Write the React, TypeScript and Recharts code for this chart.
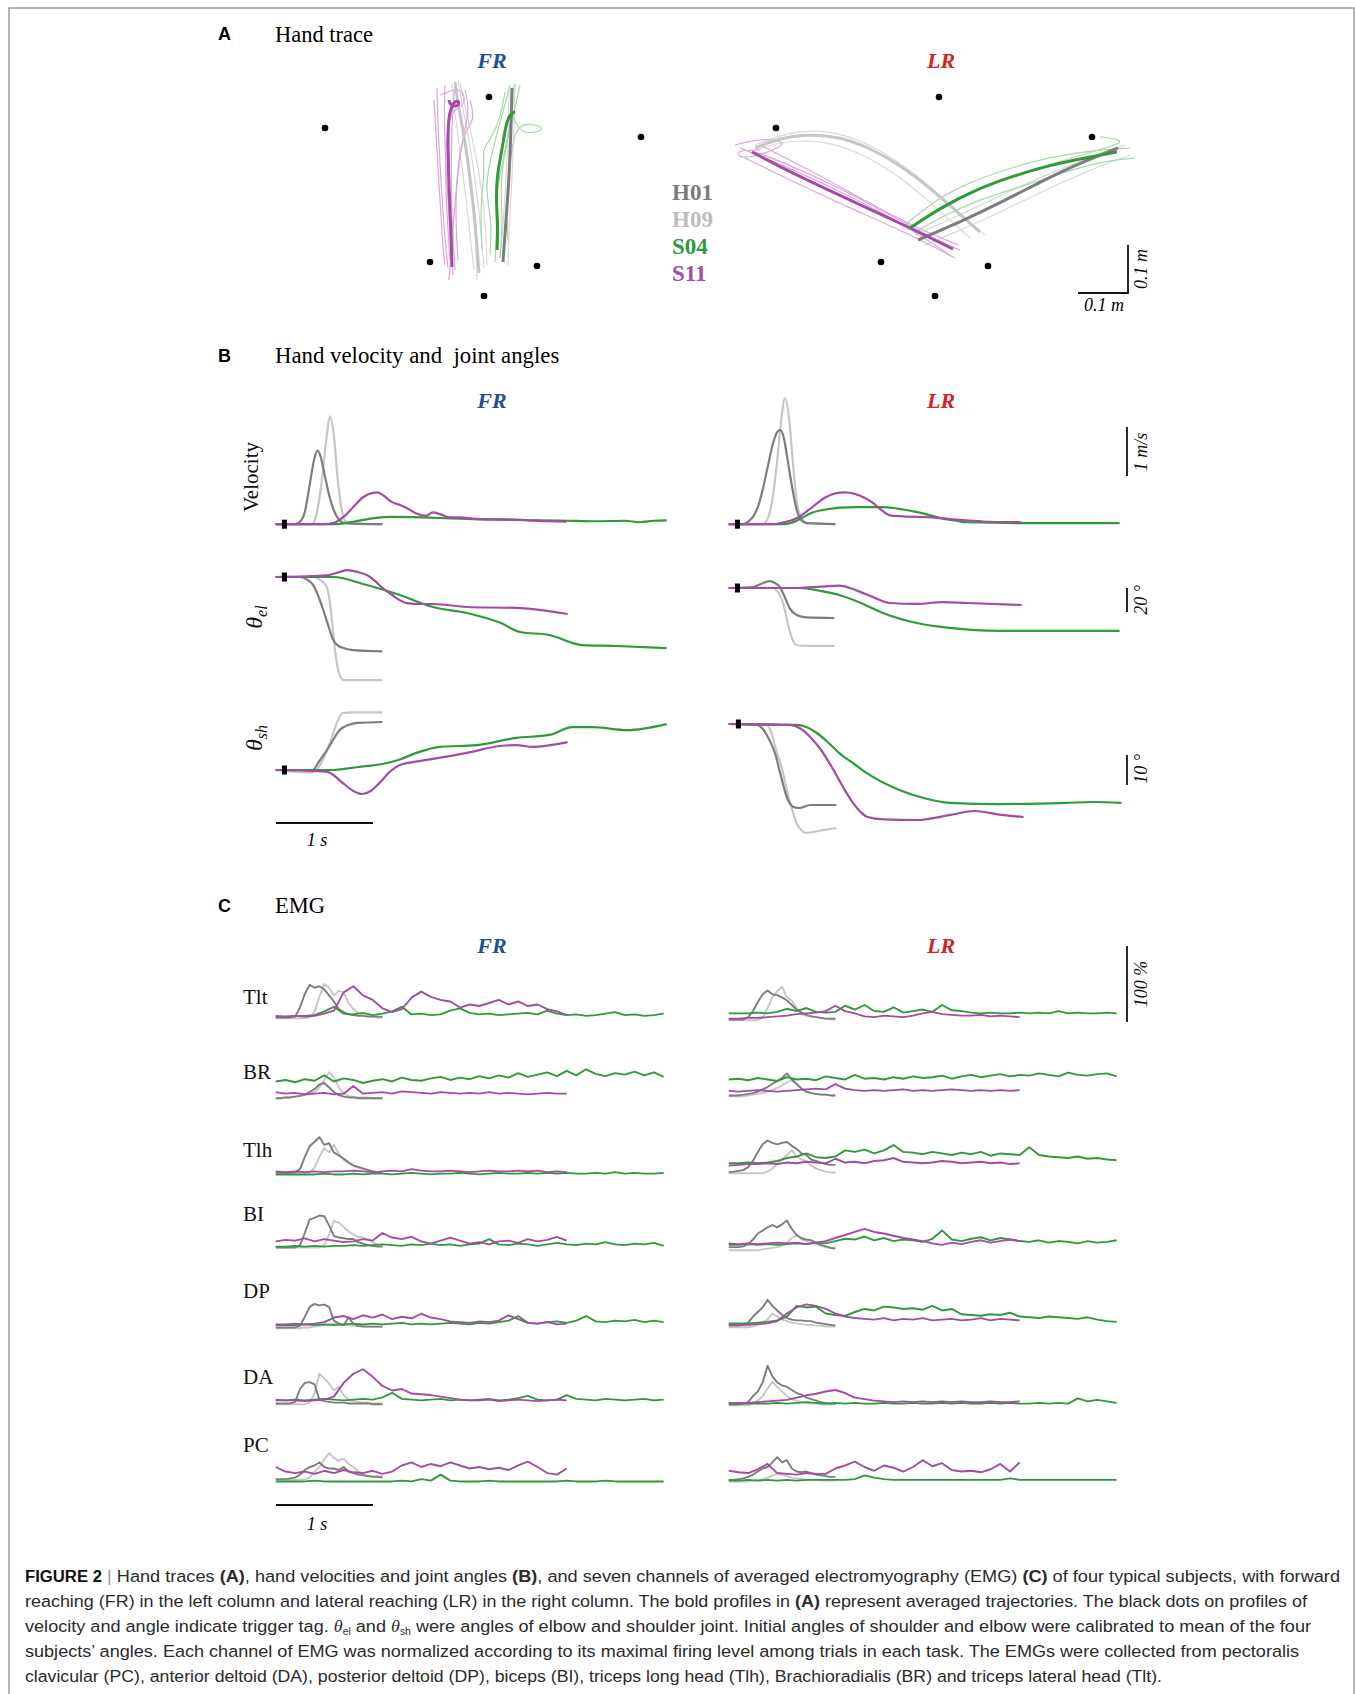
import { ComposedChart, Line, Scatter, XAxis, YAxis, ReferenceDot } from 'recharts';

type Pt = [number, number];
type Trace = { pts: Pt[]; color: string; width: number };

const DARK = '#7d7d7d';
const LIGHT = '#c6c6c6';
const GREEN = '#2f9a3a';
const PURPLE = '#a54aa5';
const GREEN_TRIAL = '#a6d9a6';
const PURPLE_TRIAL = '#dca6dc';
const GRAY_TRIAL = '#d9d9d9';
const BLUE = '#1d4f9c';
const RED = '#d42222';

const SERIF = '"Liberation Serif", "DejaVu Serif", serif';
const SANS = '"Liberation Sans", Arial, sans-serif';

// ---------- A: hand traces (workspace, cm) ----------
const frTargets: Pt[] = [[13, 36.4], [45.8, 42.6], [76.2, 34.6], [34, 9.6], [55.4, 8.8], [44.8, 2.8]];
const lrTargets: Pt[] = [[103.2, 36.4], [135.8, 42.6], [166.4, 34.6], [124.2, 9.6], [145.6, 8.8], [135, 2.8]];

const frS11Mean: Pt[] = [[38.4, 8.6], [38.2, 16], [37.8, 24], [37.6, 32], [37.6, 37], [38, 40], [39, 42], [40, 41.6], [39.4, 40.6], [38, 41], [37.8, 42]];
const frS11Trials: Pt[][] = [
  [[35.4, 44.4], [35.6, 36], [36.2, 26], [36.8, 16], [37.6, 8.4]],
  [[37, 45], [36.8, 38], [37.2, 28], [37.8, 18], [38.6, 7]],
  [[39, 45.6], [38.4, 38], [38.2, 28], [38.4, 17], [39, 8]],
  [[41, 44], [42, 40], [40.4, 34], [39.2, 24], [38.4, 14], [37.8, 6]],
  [[36, 43], [37.6, 43.6], [39.6, 44.4], [41.2, 42.8], [40.4, 40.4], [38, 40], [37, 32], [37.2, 22], [38, 10]],
  [[34.8, 42], [35.4, 32], [36, 22], [36.6, 12], [37, 9]],
  [[42, 42], [43, 38], [41, 36], [39.6, 30], [39, 20], [39.6, 10]],
];
const frH09Mean: Pt[] = [[39, 45.6], [39.8, 40], [41, 34], [42, 26.6], [43, 18], [43.8, 7.4]];
const frH09Trials: Pt[][] = [
  [[38.4, 45.2], [39, 39], [40, 32], [41, 24], [42, 15], [42.8, 8]],
  [[39.6, 46], [40.6, 40], [42, 33], [43.2, 25], [44.2, 16], [44.8, 8.4]],
  [[39.2, 44.8], [40.2, 38], [41.4, 30], [42.4, 22], [43.2, 14], [43.4, 6]],
  [[40, 45.4], [41.4, 39], [43, 32], [44.4, 24], [45.2, 16], [45.4, 9]],
];
const frH01Mean: Pt[] = [[50.4, 44.4], [50.2, 36], [49.8, 26], [49.2, 18], [48.6, 9.6]];
const frH01Trials: Pt[][] = [
  [[51, 45], [50.8, 36], [50.4, 26], [49.8, 17], [49.6, 9]],
  [[49.8, 44], [49.6, 35], [49.2, 25], [48.6, 17], [48, 10.4]],
];
const frS04Mean: Pt[] = [[47.4, 12], [47.6, 17], [47.2, 22], [47.4, 27], [48.4, 32], [49, 36], [49.6, 38.4], [50.4, 39.4], [51, 39.6]];
const frS04Trials: Pt[][] = [
  [[46, 11], [46.4, 18], [45, 24], [46, 30], [47.6, 36], [49.2, 42], [50, 45]],
  [[48, 10.4], [48.6, 18], [48, 25], [49, 32], [50.4, 38], [51.6, 43], [52, 45]],
  [[49.6, 14], [49.2, 22], [50, 30], [51, 36], [53, 37.6], [57.6, 36.4], [54, 35], [51, 36.4], [50, 42], [51, 45.2]],
  [[44.4, 12], [44, 20], [45, 28], [44.4, 32], [46, 34], [48, 38], [49, 43.6]],
  [[47, 9.6], [47.4, 16], [47, 22], [48.4, 29], [49.6, 35], [50.8, 41], [50.4, 44.4]],
];

const lrS11Mean: Pt[] = [[98.4, 31.6], [108, 26.6], [118, 22], [128, 17.4], [138.6, 12.2]];
const lrS11Trials: Pt[][] = [
  [[96, 32.4], [106, 28.4], [118, 22.8], [128, 17.6], [138, 11]],
  [[100, 33], [110, 28], [120, 22.4], [130, 17], [139.6, 13]],
  [[97, 30.4], [108, 25], [118, 20.4], [129, 15.6], [139, 10.4]],
  [[95, 33], [100, 34.4], [106, 33.6], [102, 31.6], [96, 30], [95, 32], [100, 32]],
  [[98, 32], [106, 29], [116, 24.4], [126, 19], [136, 13.6], [140, 12]],
];
const lrH09Mean: Pt[] = [[99, 32.4], [104, 34.4], [110, 35.2], [116, 34.6], [122, 32.4], [128, 29], [134, 24.4], [139, 20], [144, 15.6]];
const lrH09Trials: Pt[][] = [
  [[99, 33], [106, 35.6], [112, 36], [118, 34.8], [124, 32], [130, 28], [136, 23], [141, 18.4], [145, 15]],
  [[99, 32], [104, 33.6], [110, 34], [116, 33], [122, 30.4], [128, 26.6], [133, 22.4], [138, 18], [142, 14.4]],
];
const lrH01Mean: Pt[] = [[131.6, 14], [140, 17.6], [148, 21.4], [156, 25.6], [164, 29.4], [171.6, 32.4]];
const lrH01Trials: Pt[][] = [
  [[131, 15], [140, 19], [148, 22.8], [157, 27], [166, 30.4], [173, 33]],
  [[133, 13], [141, 16.4], [149, 20], [157, 24], [166, 28], [174, 31]],
];
const lrS04Mean: Pt[] = [[130, 16.4], [136, 20.4], [143, 24], [150, 26.6], [158, 29], [166, 30.6], [171.4, 31.6]];
const lrS04Trials: Pt[][] = [
  [[129, 17], [135, 22], [142, 25.6], [150, 28.4], [158, 30.6], [167, 32], [174, 32.4]],
  [[131, 15.6], [138, 19.6], [146, 22.8], [154, 25.2], [162, 28], [170, 30], [175, 30.4]],
  [[129.6, 16], [137, 21.4], [145, 24.8], [153, 27.6], [161, 30], [169, 32.4], [173, 33.6], [170.4, 34.4], [168, 34.6]],
];

// ---------- B: velocity (m/s) and joint angles (deg) vs time (s) ----------
const frVelH01: Pt[] = [[0, 0], [0.2, 0], [0.25, 0.05], [0.3, 0.25], [0.35, 0.8], [0.4, 1.35], [0.43, 1.5], [0.46, 1.4], [0.5, 1.05], [0.55, 0.6], [0.6, 0.28], [0.65, 0.1], [0.7, 0.03], [0.8, 0.01], [1.1, 0]];
const frVelH09: Pt[] = [[0, 0], [0.37, 0], [0.42, 0.2], [0.47, 0.8], [0.52, 1.7], [0.56, 2.2], [0.6, 1.8], [0.64, 0.9], [0.68, 0.3], [0.72, 0.06], [0.8, 0.01], [1.1, 0]];
const frVelS11: Pt[] = [[0, 0], [0.5, 0], [0.6, 0.03], [0.7, 0.15], [0.8, 0.35], [0.9, 0.55], [1.0, 0.64], [1.05, 0.65], [1.1, 0.6], [1.2, 0.45], [1.27, 0.4], [1.35, 0.33], [1.45, 0.22], [1.55, 0.17], [1.62, 0.24], [1.7, 0.2], [1.8, 0.14], [1.9, 0.14], [2.0, 0.12], [2.2, 0.1], [2.4, 0.1], [2.6, 0.08], [2.8, 0.06], [3.0, 0.05]];
const frVelS04: Pt[] = [[0, 0], [0.6, 0], [0.8, 0.05], [1.0, 0.12], [1.2, 0.15], [1.5, 0.14], [1.8, 0.12], [2.1, 0.1], [2.4, 0.09], [2.7, 0.08], [3.0, 0.07], [3.3, 0.06], [3.6, 0.07], [3.75, 0.04], [3.9, 0.07], [4.03, 0.08]];

const lrVelH01: Pt[] = [[0, 0], [0.15, 0], [0.2, 0.05], [0.25, 0.15], [0.3, 0.35], [0.35, 0.7], [0.4, 1.15], [0.45, 1.6], [0.5, 1.88], [0.53, 1.92], [0.57, 1.75], [0.6, 1.4], [0.65, 0.8], [0.7, 0.3], [0.75, 0.08], [0.8, 0.02], [1.1, 0]];
const lrVelH09: Pt[] = [[0, 0], [0.35, 0], [0.4, 0.1], [0.45, 0.5], [0.5, 1.3], [0.54, 2.1], [0.58, 2.57], [0.62, 2.2], [0.66, 1.3], [0.7, 0.5], [0.74, 0.15], [0.8, 0.03], [1.1, 0]];
const lrVelS11: Pt[] = [[0, 0], [0.45, 0], [0.55, 0.03], [0.7, 0.12], [0.85, 0.33], [1.0, 0.55], [1.1, 0.63], [1.2, 0.65], [1.3, 0.62], [1.4, 0.54], [1.49, 0.43], [1.58, 0.28], [1.66, 0.18], [1.8, 0.16], [2.1, 0.14], [2.3, 0.1], [2.45, 0.08], [2.7, 0.05], [3.02, 0.04]];
const lrVelS04: Pt[] = [[0, 0], [0.55, 0], [0.65, 0.03], [0.75, 0.12], [0.84, 0.22], [1.0, 0.3], [1.15, 0.34], [1.32, 0.35], [1.59, 0.35], [1.8, 0.3], [1.93, 0.25], [2.1, 0.17], [2.2, 0.12], [2.35, 0.07], [2.45, 0.04], [3.14, 0.02], [4.03, 0.02]];

const frElH01: Pt[] = [[0, 0], [0.25, 0], [0.32, -2], [0.38, -6], [0.43, -14], [0.48, -25], [0.54, -40], [0.59, -52], [0.64, -57], [0.69, -59], [0.8, -61], [1.1, -62]];
const frElH09: Pt[] = [[0, 0], [0.38, 0], [0.47, -3], [0.53, -9], [0.56, -22], [0.59, -44], [0.62, -66], [0.66, -82], [0.7, -86], [0.8, -86], [1.1, -86]];
const frElS11: Pt[] = [[0, 0], [0.53, 1.4], [0.65, 4], [0.74, 5.8], [0.85, 4], [0.94, 1.7], [1.02, -3], [1.09, -8.3], [1.2, -15], [1.35, -21.7], [1.5, -22.5], [1.62, -22.5], [1.97, -25], [2.48, -25.8], [2.65, -26.7], [3.01, -30.8]];
const frElS04: Pt[] = [[0, 0], [0.59, 0], [0.94, -6.7], [1.28, -15], [1.62, -25], [1.97, -30], [2.31, -38], [2.52, -45.8], [2.82, -48.3], [3.16, -56.7], [3.52, -57.5], [4.03, -59.2]];

const lrElH01: Pt[] = [[0, 0], [0.25, 0.8], [0.35, 4], [0.42, 5.8], [0.48, 4], [0.53, 0.8], [0.58, -8], [0.63, -17], [0.7, -22.5], [0.8, -24.5], [1.09, -25]];
const lrElH09: Pt[] = [[0, 0], [0.45, 0], [0.52, -5], [0.56, -12.5], [0.6, -26], [0.64, -39], [0.7, -47.5], [0.8, -48.3], [1.09, -48.3]];
const lrElS11: Pt[] = [[0, 0], [0.73, 0], [0.95, 1.2], [1.14, 1.9], [1.25, 0], [1.35, -3], [1.5, -8], [1.66, -12.5], [1.94, -13.3], [2.2, -11.7], [2.45, -12.5], [3.02, -14.2]];
const lrElS04: Pt[] = [[0, 0], [0.73, 0], [0.95, -2.5], [1.14, -5.8], [1.35, -12], [1.59, -20.8], [1.94, -29.2], [2.28, -33.3], [2.79, -35.8], [4.03, -35.8]];

const frShH01: Pt[] = [[0, 0], [0.38, 0], [0.45, 3], [0.53, 6.7], [0.6, 10.5], [0.66, 13.3], [0.75, 15], [0.84, 15.7], [1.1, 16]];
const frShH09: Pt[] = [[0, 0], [0.36, -0.9], [0.42, 0], [0.48, 3], [0.53, 6.7], [0.58, 11], [0.63, 15.7], [0.69, 19], [0.8, 19.2], [1.1, 19.2]];
const frShS11: Pt[] = [[0, 0], [0.53, -0.6], [0.69, -4.3], [0.8, -7], [0.89, -8], [0.98, -7], [1.07, -4.3], [1.18, -0.5], [1.28, 1.7], [1.45, 2.8], [1.62, 3.7], [1.97, 5.7], [2.31, 8], [2.48, 8.3], [2.65, 7.7], [3.01, 9.3]];
const frShS04: Pt[] = [[0, 0], [0.59, 0], [0.85, 1], [1.1, 2], [1.28, 3.5], [1.45, 5.7], [1.69, 7.7], [2.07, 8.3], [2.48, 10.7], [2.82, 11.7], [3.06, 14.3], [3.27, 14.3], [3.62, 13.3], [4.03, 15.3]];

const lrShH01: Pt[] = [[0, 0], [0.29, -0.3], [0.36, -2], [0.42, -5.3], [0.48, -10], [0.53, -16.3], [0.61, -25.3], [0.68, -27.8], [0.73, -28], [0.84, -27], [1.11, -27]];
const lrShH09: Pt[] = [[0, 0], [0.39, -0.3], [0.44, -3], [0.49, -8.7], [0.55, -15], [0.6, -22], [0.65, -28], [0.7, -33], [0.8, -36.3], [0.95, -35.5], [1.11, -34.7]];
const lrShS11: Pt[] = [[0, 0], [0.63, -0.3], [0.74, -1.5], [0.84, -4.3], [0.96, -9], [1.08, -15.3], [1.17, -20.5], [1.26, -25.3], [1.35, -29], [1.43, -31], [1.6, -31.8], [1.95, -32], [2.29, -30.3], [2.53, -29], [2.81, -30.3], [3.04, -31]];
const lrShS04: Pt[] = [[0, 0], [0.7, -0.3], [0.8, -1], [0.91, -3], [1.02, -6], [1.14, -9.7], [1.28, -13], [1.42, -16.3], [1.76, -22], [2.0, -24.6], [2.28, -26.3], [2.79, -26.7], [3.48, -26.3], [3.75, -26], [4.05, -26.3]];

// ---------- C: EMG (% of max), healthy sampled every 0.05 s, stroke every 0.1 s ----------
const GRAY_DT = 0.05;
const LONG_DT = 0.1;

const frTlt = {
  h01: [1, 1, 1, 1, 2, 14, 32, 44, 40, 42, 38, 30, 22, 12, 8, 5, 4, 3, 3, 2, 2, 2, 2],
  h09: [0, 0, 0, 0, 0, 0, 0, 1, 8, 28, 45, 40, 30, 36, 34, 20, 12, 7, 4, 3, 2, 1, 1],
  s11: [2, 2, 3, 2, 3, 6, 10, 34, 42, 30, 24, 13, 8, 12, 27, 35, 28, 24, 22, 14, 18, 16, 20, 24, 18, 22, 16, 18, 12, 9, 4],
  s04: [3, 2, 3, 3, 4, 9, 15, 6, 5, 7, 4, 6, 9, 15, 5, 6, 4, 5, 10, 13, 7, 5, 6, 4, 5, 6, 7, 5, 10, 6, 4, 5, 3, 4, 6, 8, 4, 5, 3, 4, 6],
};
const frBR = {
  h01: [0, 0, 1, 1, 2, 3, 5, 8, 12, 18, 20, 14, 8, 4, 2, 1, 1, 0, 0, 0, 0, 0, 0],
  h09: [0, 0, 1, 1, 2, 3, 4, 5, 8, 14, 24, 34, 28, 14, 6, 3, 2, 1, 1, 1, 0, 0, 0],
  s11: [8, 6, 7, 5, 6, 7, 5, 6, 16, 6, 7, 8, 6, 9, 8, 7, 6, 8, 7, 6, 7, 6, 8, 6, 7, 6, 5, 6, 7, 6, 6],
  s04: [22, 24, 21, 25, 23, 30, 22, 26, 24, 20, 23, 25, 22, 27, 24, 23, 26, 28, 24, 27, 25, 29, 26, 30, 27, 33, 28, 31, 34, 29, 36, 30, 38, 32, 29, 33, 31, 35, 30, 34, 28],
};
const frTlh = {
  h01: [3, 3, 3, 3, 4, 8, 24, 38, 44, 50, 40, 42, 30, 26, 22, 17, 13, 11, 9, 7, 5, 4, 4],
  h09: [3, 3, 3, 3, 3, 3, 3, 3, 10, 24, 36, 30, 40, 28, 20, 16, 12, 10, 8, 6, 5, 4, 4],
  s11: [5, 4, 5, 4, 5, 4, 5, 5, 6, 5, 4, 5, 6, 5, 8, 6, 5, 5, 6, 5, 4, 5, 6, 5, 5, 6, 5, 6, 4, 5, 4],
  s04: [1, 1, 1, 1, 1, 2, 1, 1, 2, 1, 2, 2, 1, 2, 3, 2, 1, 2, 2, 3, 2, 1, 2, 3, 2, 2, 3, 2, 3, 2, 3, 2, 2, 3, 2, 4, 2, 3, 2, 2, 3],
};
const frBI = {
  h01: [1, 1, 1, 1, 1, 4, 20, 38, 40, 43, 42, 30, 16, 14, 13, 12, 12, 8, 6, 4, 3, 2, 2],
  h09: [1, 1, 1, 1, 1, 1, 1, 1, 1, 1, 4, 18, 36, 34, 28, 22, 18, 15, 14, 12, 8, 5, 3],
  s11: [9, 11, 10, 13, 9, 12, 10, 8, 9, 12, 10, 20, 14, 12, 15, 9, 6, 10, 14, 10, 6, 8, 5, 9, 10, 7, 12, 9, 11, 15, 10],
  s04: [2, 2, 3, 2, 3, 2, 3, 3, 4, 3, 4, 5, 4, 3, 5, 4, 6, 4, 5, 3, 5, 6, 12, 5, 4, 6, 5, 3, 5, 7, 5, 4, 6, 5, 8, 5, 4, 6, 5, 7, 3],
};
const frDP = {
  h01: [1, 1, 1, 1, 1, 3, 15, 28, 32, 30, 31, 28, 10, 6, 4, 14, 6, 3, 2, 2, 2, 2, 2],
  h09: [0, 0, 0, 0, 0, 0, 1, 1, 2, 3, 4, 5, 6, 5, 4, 4, 3, 3, 3, 2, 2, 2, 2],
  s11: [5, 5, 6, 5, 6, 8, 14, 16, 12, 17, 14, 18, 12, 15, 13, 19, 14, 12, 9, 8, 7, 9, 8, 10, 17, 12, 7, 6, 8, 5, 6],
  s04: [4, 4, 4, 5, 4, 5, 4, 5, 6, 5, 6, 5, 6, 7, 5, 6, 5, 6, 7, 6, 5, 7, 6, 8, 10, 16, 7, 6, 8, 9, 7, 10, 16, 9, 8, 10, 9, 11, 8, 10, 8],
};
const frDA = {
  h01: [1, 1, 1, 1, 3, 20, 28, 29, 26, 6, 4, 3, 2, 2, 2, 1, 1, 1, 1, 1, 0, 0, 0],
  h09: [0, 0, 0, 0, 0, 0, 0, 2, 14, 40, 34, 27, 18, 23, 12, 6, 4, 3, 2, 2, 1, 1, 1],
  s11: [5, 5, 5, 4, 5, 6, 10, 28, 40, 46, 36, 24, 18, 20, 14, 13, 12, 10, 8, 6, 5, 5, 6, 4, 5, 6, 5, 4, 5, 6, 5],
  s04: [6, 5, 6, 5, 6, 7, 6, 5, 6, 7, 6, 9, 15, 7, 6, 5, 6, 7, 5, 6, 5, 6, 7, 5, 6, 8, 11, 6, 5, 6, 12, 7, 6, 5, 7, 6, 5, 6, 7, 5, 6],
};
const frPC = {
  h01: [4, 4, 4, 5, 6, 10, 16, 20, 22, 26, 20, 18, 18, 16, 20, 14, 12, 10, 9, 8, 7, 7, 6],
  h09: [3, 3, 3, 3, 3, 3, 4, 6, 14, 20, 30, 38, 32, 28, 31, 24, 20, 14, 10, 9, 8, 8, 8],
  s11: [20, 14, 12, 14, 11, 15, 12, 16, 13, 12, 15, 11, 14, 22, 26, 20, 24, 21, 26, 22, 18, 20, 17, 19, 16, 22, 27, 20, 12, 10, 18],
  s04: [1, 1, 1, 1, 2, 1, 1, 1, 1, 1, 1, 1, 1, 2, 1, 4, 2, 10, 2, 1, 1, 1, 2, 1, 1, 1, 1, 1, 1, 1, 2, 1, 1, 1, 2, 1, 1, 1, 1, 1, 1],
};

const lrTlt = {
  h01: [1, 1, 1, 1, 4, 12, 24, 34, 39, 34, 33, 30, 26, 20, 14, 10, 7, 5, 4, 3, 2, 2, 2],
  h09: [0, 0, 0, 0, 0, 0, 0, 4, 16, 30, 38, 44, 30, 26, 16, 8, 6, 5, 4, 3, 2, 1, 1],
  s11: [2, 2, 3, 3, 4, 5, 6, 8, 9, 10, 12, 19, 12, 9, 5, 4, 6, 5, 4, 6, 9, 11, 8, 7, 6, 6, 7, 5, 6, 5, 4],
  s04: [9, 9, 9, 10, 9, 11, 15, 12, 16, 11, 10, 11, 19, 14, 20, 12, 11, 17, 10, 12, 14, 11, 20, 13, 12, 10, 9, 10, 9, 9, 10, 9, 10, 9, 12, 9, 10, 9, 9, 10, 9],
};
const lrBR = {
  h01: [1, 1, 1, 2, 3, 4, 6, 9, 12, 16, 20, 24, 30, 22, 16, 10, 6, 4, 3, 2, 2, 1, 1],
  h09: [0, 0, 0, 0, 1, 2, 3, 4, 6, 8, 11, 14, 18, 21, 16, 10, 6, 4, 3, 2, 2, 1, 1],
  s11: [7, 6, 7, 8, 7, 6, 7, 8, 9, 10, 9, 16, 10, 8, 7, 8, 7, 8, 9, 7, 8, 7, 8, 9, 8, 7, 8, 7, 8, 7, 8],
  s04: [22, 23, 21, 24, 22, 20, 25, 22, 23, 21, 26, 24, 22, 28, 23, 24, 22, 25, 23, 26, 24, 25, 27, 23, 26, 28, 25, 27, 29, 26, 28, 27, 30, 28, 26, 31, 28, 27, 29, 30, 26],
};
const lrTlh = {
  h01: [1, 2, 3, 4, 8, 16, 28, 38, 43, 40, 38, 40, 41, 36, 32, 26, 24, 18, 16, 14, 12, 11, 11],
  h09: [0, 0, 0, 0, 0, 0, 0, 0, 2, 6, 12, 18, 24, 30, 22, 18, 16, 10, 6, 4, 2, 1, 1],
  s11: [10, 11, 12, 12, 13, 12, 14, 13, 15, 14, 13, 19, 14, 15, 13, 16, 17, 20, 15, 14, 13, 14, 16, 15, 13, 14, 15, 13, 14, 12, 13],
  s04: [13, 13, 14, 13, 14, 16, 20, 22, 26, 21, 20, 22, 30, 28, 31, 26, 30, 37, 28, 27, 25, 28, 26, 24, 27, 25, 28, 23, 26, 25, 24, 34, 24, 22, 21, 20, 22, 19, 20, 18, 17],
};
const lrBI = {
  h01: [4, 4, 4, 5, 8, 14, 22, 26, 30, 33, 30, 34, 39, 28, 20, 16, 14, 13, 10, 7, 5, 3, 2],
  h09: [0, 0, 0, 0, 0, 0, 0, 1, 2, 3, 4, 6, 10, 16, 20, 14, 12, 9, 8, 6, 4, 3, 3],
  s11: [9, 8, 9, 8, 9, 10, 9, 10, 8, 10, 12, 16, 20, 24, 28, 24, 22, 19, 16, 14, 12, 9, 7, 10, 8, 11, 13, 10, 12, 14, 12],
  s04: [7, 7, 8, 7, 8, 7, 8, 9, 8, 10, 9, 12, 15, 14, 18, 13, 16, 12, 14, 13, 11, 15, 26, 14, 12, 15, 17, 13, 16, 14, 12, 11, 13, 10, 12, 11, 9, 12, 10, 11, 13],
};
const lrDP = {
  h01: [2, 2, 2, 3, 6, 14, 20, 26, 36, 28, 22, 16, 12, 10, 9, 9, 8, 8, 6, 5, 4, 3, 2],
  h09: [0, 0, 0, 0, 0, 1, 3, 6, 10, 18, 14, 10, 8, 6, 5, 4, 3, 3, 2, 2, 1, 1, 1],
  s11: [3, 3, 3, 4, 5, 8, 18, 26, 30, 28, 24, 18, 14, 12, 11, 10, 12, 9, 11, 10, 12, 9, 10, 11, 9, 10, 12, 9, 11, 10, 9],
  s04: [5, 5, 5, 6, 7, 9, 14, 28, 26, 27, 18, 16, 15, 20, 24, 22, 27, 26, 24, 25, 23, 28, 22, 24, 17, 16, 15, 17, 16, 19, 14, 13, 12, 14, 13, 12, 11, 13, 10, 8, 7],
};
const lrDA = {
  h01: [1, 1, 1, 2, 4, 12, 18, 30, 52, 38, 30, 26, 24, 20, 16, 14, 10, 8, 6, 4, 3, 2, 2],
  h09: [0, 0, 0, 0, 0, 2, 6, 12, 22, 31, 24, 18, 12, 8, 6, 4, 3, 2, 2, 1, 1, 1, 1],
  s11: [3, 3, 3, 4, 5, 6, 7, 10, 13, 15, 18, 20, 16, 10, 8, 6, 5, 4, 5, 4, 5, 4, 5, 4, 5, 4, 4, 5, 4, 4, 5],
  s04: [2, 2, 2, 2, 2, 3, 2, 3, 4, 3, 2, 3, 2, 3, 2, 2, 3, 2, 2, 3, 2, 2, 3, 2, 3, 2, 2, 3, 2, 3, 2, 2, 3, 2, 3, 2, 9, 5, 7, 5, 3],
};
const lrPC = {
  h01: [3, 3, 4, 5, 7, 10, 14, 18, 20, 26, 33, 26, 29, 18, 14, 13, 14, 12, 10, 9, 8, 7, 7],
  h09: [1, 1, 1, 1, 1, 2, 3, 4, 6, 9, 11, 10, 8, 6, 5, 4, 3, 3, 3, 2, 2, 2, 2],
  s11: [15, 13, 12, 17, 24, 12, 11, 10, 12, 11, 11, 18, 22, 27, 20, 15, 22, 19, 14, 20, 29, 21, 25, 16, 14, 15, 13, 17, 24, 14, 26],
  s04: [2, 2, 3, 2, 3, 2, 3, 2, 3, 3, 3, 3, 3, 4, 9, 6, 4, 3, 3, 3, 3, 3, 3, 3, 3, 3, 3, 3, 3, 5, 3, 3, 3, 3, 3, 3, 3, 3, 3, 3, 3],
};

type Emg = { h01: number[]; h09: number[]; s11: number[]; s04: number[] };

// layout (page pixels)
const FR_X0 = 276;
const LR_X0 = 729;
const PX_PER_S = 97;
const emgRows: { name: string; fr: Emg; lr: Emg; frZero: number; lrZero: number; labelY: number }[] = [
  { name: 'Tlt', fr: frTlt, lr: lrTlt, frZero: 1018, lrZero: 1020, labelY: 1004 },
  { name: 'BR', fr: frBR, lr: lrBR, frZero: 1098, lrZero: 1096, labelY: 1079 },
  { name: 'Tlh', fr: frTlh, lr: lrTlh, frZero: 1175, lrZero: 1173, labelY: 1157 },
  { name: 'BI', fr: frBI, lr: lrBI, frZero: 1248, lrZero: 1250, labelY: 1221 },
  { name: 'DP', fr: frDP, lr: lrDP, frZero: 1328, lrZero: 1327, labelY: 1298 },
  { name: 'DA', fr: frDA, lr: lrDA, frZero: 1404, lrZero: 1405, labelY: 1384 },
  { name: 'PC', fr: frPC, lr: lrPC, frZero: 1482, lrZero: 1482, labelY: 1452 },
];

const sampled = (vals: number[], dt: number): Pt[] => vals.map((v, i) => [i * dt, v]);
const toXY = (pts: Pt[]) => pts.map(([x, y]) => ({ x, y }));

const TriggerMark = (p: any) => <rect x={p.cx - 2.5} y={p.cy - 4.5} width={5} height={9} fill="#000" />;
const TargetDot = (p: any) => <circle cx={p.cx} cy={p.cy} r={3.3} fill="#000" />;

type PlotProps = {
  x0: number; y0: number; sx: number; sy: number;
  xDom: [number, number]; yDom: [number, number];
  traces: Trace[]; curve: any; targets?: Pt[]; trigger?: Pt;
};

const Plot = ({ x0, y0, sx, sy, xDom, yDom, traces, curve, targets, trigger }: PlotProps) => {
  const left = x0 + xDom[0] * sx;
  const width = (xDom[1] - xDom[0]) * sx;
  const top = y0 - yDom[1] * sy;
  const height = (yDom[1] - yDom[0]) * sy;
  return (
    <div style={{ position: 'absolute', left, top, width, height }}>
      <ComposedChart width={width} height={height} margin={{ top: 0, right: 0, bottom: 0, left: 0 }}>
        <XAxis hide type="number" dataKey="x" domain={xDom} allowDataOverflow />
        <YAxis hide type="number" domain={yDom} allowDataOverflow />
        {traces.map((tr, i) => (
          <Line key={i} data={toXY(tr.pts)} dataKey="y" type={curve} stroke={tr.color} strokeWidth={tr.width}
            strokeLinejoin="round" dot={false} activeDot={false} isAnimationActive={false} />
        ))}
        {targets && <Scatter data={toXY(targets)} dataKey="y" shape={TargetDot} isAnimationActive={false} />}
        {trigger && <ReferenceDot x={trigger[0]} y={trigger[1]} shape={TriggerMark} />}
      </ComposedChart>
    </div>
  );
};

const kin = (h09: Pt[], h01: Pt[], s04: Pt[], s11: Pt[]): Trace[] => [
  { pts: h09, color: LIGHT, width: 2.2 },
  { pts: h01, color: DARK, width: 2.2 },
  { pts: s04, color: GREEN, width: 2.2 },
  { pts: s11, color: PURPLE, width: 2.2 },
];

const emgTraces = (e: Emg): Trace[] => [
  { pts: sampled(e.h09, GRAY_DT), color: LIGHT, width: 1.9 },
  { pts: sampled(e.h01, GRAY_DT), color: DARK, width: 1.9 },
  { pts: sampled(e.s04, LONG_DT), color: GREEN, width: 1.9 },
  { pts: sampled(e.s11, LONG_DT), color: PURPLE, width: 1.9 },
];

const handTraces: Trace[] = [
  ...frH09Trials.map((p) => ({ pts: p, color: GRAY_TRIAL, width: 1.2 })),
  ...frH01Trials.map((p) => ({ pts: p, color: GRAY_TRIAL, width: 1.2 })),
  ...frS11Trials.map((p) => ({ pts: p, color: PURPLE_TRIAL, width: 1.2 })),
  ...frS04Trials.map((p) => ({ pts: p, color: GREEN_TRIAL, width: 1.2 })),
  ...lrH09Trials.map((p) => ({ pts: p, color: GRAY_TRIAL, width: 1.2 })),
  ...lrH01Trials.map((p) => ({ pts: p, color: GRAY_TRIAL, width: 1.2 })),
  ...lrS11Trials.map((p) => ({ pts: p, color: PURPLE_TRIAL, width: 1.2 })),
  ...lrS04Trials.map((p) => ({ pts: p, color: GREEN_TRIAL, width: 1.2 })),
  { pts: frH09Mean, color: LIGHT, width: 3 },
  { pts: lrH09Mean, color: LIGHT, width: 3 },
  { pts: frH01Mean, color: DARK, width: 3 },
  { pts: lrH01Mean, color: DARK, width: 3 },
  { pts: frS11Mean, color: PURPLE, width: 3 },
  { pts: lrS11Mean, color: PURPLE, width: 3 },
  { pts: frS04Mean, color: GREEN, width: 3 },
  { pts: lrS04Mean, color: GREEN, width: 3 },
];

const T_DOM: [number, number] = [-0.1, 4.2];
const VEL_SY = 49;
const EL_SY = 1.2;
const SH_SY = 3;
const EMG_SY = 0.76;

const Overlay = () => {
  const serif = { fontFamily: SERIF };
  const lbl = (x: number, y: number, s: string, color: string) => (
    <text x={x} y={y} textAnchor="middle" fontFamily={SERIF} fontWeight="bold" fontStyle="italic" fontSize={22} fill={color}>{s}</text>
  );
  const rot = (x: number, y: number, content: any, size = 18, italic = true) => (
    <text x={x} y={y} transform={`rotate(-90 ${x} ${y})`} textAnchor="middle" fontFamily={SERIF} fontSize={size}
      fontStyle={italic ? 'italic' : 'normal'} fill="#111">{content}</text>
  );
  const capY = [1582, 1607, 1632, 1657, 1682];
  const capW = [1315, 1282, 1286, 1274, 1137];
  const cap = { fontFamily: SANS, fontSize: 17.4, fill: '#2a2a2a' };
  return (
    <svg width={1355} height={1694} style={{ position: 'absolute', left: 0, top: 0, pointerEvents: 'none' }}>
      <polyline points="9,1694 9,8 1354,8 1354,1694" fill="none" stroke="#9c9c9c" strokeWidth={1.5} />

      {/* A */}
      <text x={218} y={40} fontFamily={SANS} fontWeight="bold" fontSize={18}>A</text>
      <text x={275} y={42} {...serif} fontSize={22.5}>Hand trace</text>
      {lbl(492, 68, 'FR', BLUE)}
      {lbl(941, 68, 'LR', RED)}
      <g fontFamily={SERIF} fontWeight="bold" fontSize={23}>
        <text x={672} y={200} fill="#7a7a7a">H01</text>
        <text x={672} y={227} fill="#bdbdbd">H09</text>
        <text x={672} y={254} fill={GREEN}>S04</text>
        <text x={672} y={281} fill={PURPLE}>S11</text>
      </g>
      <polyline points="1078,293 1128,293 1128,245" fill="none" stroke="#111" strokeWidth={1.8} />
      <text x={1104} y={311} textAnchor="middle" {...serif} fontStyle="italic" fontSize={18}>0.1 m</text>
      {rot(1147, 269, '0.1 m')}

      {/* B */}
      <text x={218} y={362} fontFamily={SANS} fontWeight="bold" fontSize={18}>B</text>
      <text x={275} y={363} {...serif} fontSize={22.8} style={{ whiteSpace: 'pre' }}>Hand velocity and  joint angles</text>
      {lbl(492, 408, 'FR', BLUE)}
      {lbl(941, 408, 'LR', RED)}
      {rot(258, 477, 'Velocity', 21, false)}
      <text x={262} y={617} transform="rotate(-90 262 617)" textAnchor="middle" fontFamily={SERIF} fontStyle="italic" fill="#111">
        <tspan fontSize={24}>θ</tspan><tspan fontSize={16} dy={5}>el</tspan>
      </text>
      <text x={262} y={738} transform="rotate(-90 262 738)" textAnchor="middle" fontFamily={SERIF} fontStyle="italic" fill="#111">
        <tspan fontSize={24}>θ</tspan><tspan fontSize={16} dy={5}>sh</tspan>
      </text>
      <line x1={1127} y1={427} x2={1127} y2={476} stroke="#111" strokeWidth={1.8} />
      {rot(1147, 452, '1 m/s')}
      <line x1={1127} y1={588} x2={1127} y2={612} stroke="#111" strokeWidth={1.8} />
      {rot(1147, 600, '20 °')}
      <line x1={1127} y1={755} x2={1127} y2={785} stroke="#111" strokeWidth={1.8} />
      {rot(1147, 769, '10 °')}
      <line x1={276} y1={823} x2={373} y2={823} stroke="#111" strokeWidth={1.8} />
      <text x={317} y={846} textAnchor="middle" {...serif} fontStyle="italic" fontSize={18}>1 s</text>

      {/* C */}
      <text x={218} y={912} fontFamily={SANS} fontWeight="bold" fontSize={18}>C</text>
      <text x={275} y={913} {...serif} fontSize={22.5}>EMG</text>
      {lbl(492, 953, 'FR', BLUE)}
      {lbl(941, 953, 'LR', RED)}
      {emgRows.map((r) => (
        <text key={r.name} x={243} y={r.labelY} {...serif} fontSize={21} fill="#111">{r.name}</text>
      ))}
      <line x1={1127} y1={946} x2={1127} y2={1022} stroke="#111" strokeWidth={1.8} />
      {rot(1147, 984, '100 %')}
      <line x1={276} y1={1505} x2={373} y2={1505} stroke="#111" strokeWidth={1.8} />
      <text x={317} y={1530} textAnchor="middle" {...serif} fontStyle="italic" fontSize={18}>1 s</text>

      {/* caption */}
      <g {...cap} style={{ whiteSpace: 'pre' }}>
        <text x={25} y={capY[0]} textLength={capW[0]} lengthAdjust="spacingAndGlyphs">
          <tspan fontWeight="bold" fill="#111" fontSize={16}>FIGURE 2</tspan><tspan fill="#999"> | </tspan>Hand traces <tspan fontWeight="bold">(A)</tspan>, hand velocities and joint angles <tspan fontWeight="bold">(B)</tspan>, and seven channels of averaged electromyography (EMG) <tspan fontWeight="bold">(C)</tspan> of four typical subjects, with forward
        </text>
        <text x={25} y={capY[1]} textLength={capW[1]} lengthAdjust="spacingAndGlyphs">
          reaching (FR) in the left column and lateral reaching (LR) in the right column. The bold profiles in <tspan fontWeight="bold">(A)</tspan> represent averaged trajectories. The black dots on profiles of
        </text>
        <text x={25} y={capY[2]} textLength={capW[2]} lengthAdjust="spacingAndGlyphs">
          velocity and angle indicate trigger tag. <tspan fontFamily={SERIF} fontStyle="italic">θ</tspan><tspan fontSize={10} dy={3}>el</tspan><tspan dy={-3}> and </tspan><tspan fontFamily={SERIF} fontStyle="italic">θ</tspan><tspan fontSize={10} dy={3}>sh</tspan><tspan dy={-3}> were angles of elbow and shoulder joint. Initial angles of shoulder and elbow were calibrated to mean of the four</tspan>
        </text>
        <text x={25} y={capY[3]} textLength={capW[3]} lengthAdjust="spacingAndGlyphs">
          subjects’ angles. Each channel of EMG was normalized according to its maximal firing level among trials in each task. The EMGs were collected from pectoralis
        </text>
        <text x={25} y={capY[4]} textLength={capW[4]} lengthAdjust="spacingAndGlyphs">
          clavicular (PC), anterior deltoid (DA), posterior deltoid (DP), biceps (BI), triceps long head (Tlh), Brachioradialis (BR) and triceps lateral head (Tlt).
        </text>
      </g>
    </svg>
  );
};

const App = () => (
  <div style={{ position: 'absolute', left: 0, top: 0, width: 1355, height: 1694, background: '#fff', overflow: 'hidden' }}>
    {/* A: hand traces, origin at page (260, 310), 5 px per cm */}
    <Plot x0={260} y0={310} sx={5} sy={5} xDom={[0, 178]} yDom={[0, 48]} curve="basis"
      traces={handTraces} targets={[...frTargets, ...lrTargets]} />

    {/* B */}
    <Plot x0={FR_X0} y0={524} sx={PX_PER_S} sy={VEL_SY} xDom={T_DOM} yDom={[-0.2, 2.8]} curve="monotone"
      traces={kin(frVelH09, frVelH01, frVelS04, frVelS11)} trigger={[0.09, 0]} />
    <Plot x0={LR_X0} y0={524} sx={PX_PER_S} sy={VEL_SY} xDom={T_DOM} yDom={[-0.2, 2.8]} curve="monotone"
      traces={kin(lrVelH09, lrVelH01, lrVelS04, lrVelS11)} trigger={[0.09, 0]} />
    <Plot x0={FR_X0} y0={577} sx={PX_PER_S} sy={EL_SY} xDom={T_DOM} yDom={[-95, 15]} curve="monotone"
      traces={kin(frElH09, frElH01, frElS04, frElS11)} trigger={[0.09, 0]} />
    <Plot x0={LR_X0} y0={588} sx={PX_PER_S} sy={EL_SY} xDom={T_DOM} yDom={[-55, 15]} curve="monotone"
      traces={kin(lrElH09, lrElH01, lrElS04, lrElS11)} trigger={[0.09, 0]} />
    <Plot x0={FR_X0} y0={770} sx={PX_PER_S} sy={SH_SY} xDom={T_DOM} yDom={[-12, 25]} curve="monotone"
      traces={kin(frShH09, frShH01, frShS04, frShS11)} trigger={[0.09, 0]} />
    <Plot x0={LR_X0} y0={724} sx={PX_PER_S} sy={SH_SY} xDom={T_DOM} yDom={[-40, 5]} curve="monotone"
      traces={kin(lrShH09, lrShH01, lrShS04, lrShS11)} trigger={[0.1, 0]} />

    {/* C */}
    {emgRows.map((r) => (
      <div key={r.name}>
        <Plot x0={FR_X0} y0={r.frZero} sx={PX_PER_S} sy={EMG_SY} xDom={T_DOM} yDom={[-8, 70]} curve="linear"
          traces={emgTraces(r.fr)} />
        <Plot x0={LR_X0} y0={r.lrZero} sx={PX_PER_S} sy={EMG_SY} xDom={T_DOM} yDom={[-8, 70]} curve="linear"
          traces={emgTraces(r.lr)} />
      </div>
    ))}

    <Overlay />
  </div>
);

export default App;
